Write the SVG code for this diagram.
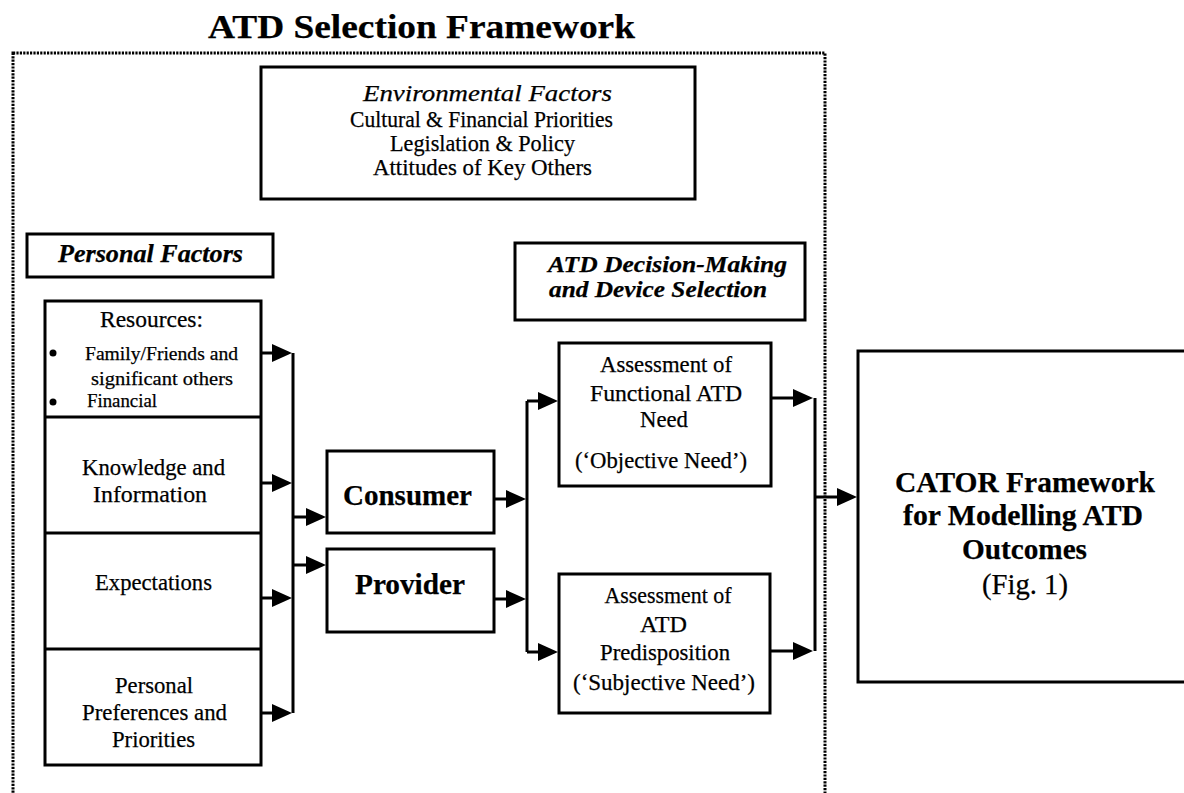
<svg xmlns="http://www.w3.org/2000/svg" width="1184" height="793" viewBox="0 0 1184 793" font-family="Liberation Serif, serif">
<style>
text{font-family:"Liberation Serif",serif;fill:#000;text-anchor:middle;stroke:#000;stroke-width:0.25}
.b{font-weight:bold}
.i{font-style:italic}
.box{fill:#fff;stroke:#000;stroke-width:3}
.ln{fill:none;stroke:#000;stroke-width:3}
.frame{fill:none;stroke:#000;stroke-width:3;stroke-dasharray:2.2 1.2}
</style>
<defs>
<marker id="ah" markerUnits="userSpaceOnUse" markerWidth="20" markerHeight="18" refX="10" refY="9" orient="auto">
<path d="M0,0 L20,9 L0,18 z" fill="#000"/>
</marker>
</defs>
<rect width="1184" height="793" fill="#fff"/>
<g id="frame">
<rect class="frame" x="13" y="53" width="812" height="770"/>
<text class="b" x="421.5" y="38" font-size="34" textLength="427" lengthAdjust="spacingAndGlyphs">ATD Selection Framework</text>
</g>
<g id="environmental">
<rect class="box" x="261" y="67" width="434" height="132" stroke-width="3.5"/>
<text class="i" x="487.5" y="101" font-size="24" textLength="249" lengthAdjust="spacingAndGlyphs">Environmental Factors</text>
<text x="481.5" y="127" font-size="23" textLength="263" lengthAdjust="spacingAndGlyphs">Cultural &amp; Financial Priorities</text>
<text x="482.5" y="151" font-size="23" textLength="185" lengthAdjust="spacingAndGlyphs">Legislation &amp; Policy</text>
<text x="482.5" y="175" font-size="23" textLength="219" lengthAdjust="spacingAndGlyphs">Attitudes of Key Others</text>
</g>
<g id="personal-factors">
<rect class="box" x="27" y="234" width="246" height="43"/>
<text class="b i" x="150.5" y="262" font-size="25" textLength="185" lengthAdjust="spacingAndGlyphs">Personal Factors</text>
</g>
<g id="personal-list">
<rect class="box" x="45" y="301" width="216" height="464"/>
<line class="ln" x1="45" y1="417" x2="261" y2="417"/>
<line class="ln" x1="45" y1="533" x2="261" y2="533"/>
<line class="ln" x1="45" y1="649" x2="261" y2="649"/>
<text x="151.5" y="327" font-size="23" textLength="103" lengthAdjust="spacingAndGlyphs">Resources:</text>
<circle cx="53" cy="353" r="3.5" fill="#000"/>
<circle cx="53" cy="402" r="3.5" fill="#000"/>
<text x="161.5" y="360" font-size="19" textLength="153" lengthAdjust="spacingAndGlyphs">Family/Friends and</text>
<text x="162" y="385" font-size="19" textLength="142" lengthAdjust="spacingAndGlyphs">significant others</text>
<text x="122" y="407" font-size="19" textLength="70" lengthAdjust="spacingAndGlyphs">Financial</text>
<text x="153.5" y="475" font-size="24" textLength="143" lengthAdjust="spacingAndGlyphs">Knowledge and</text>
<text x="150" y="502" font-size="24" textLength="114" lengthAdjust="spacingAndGlyphs">Information</text>
<text x="153.5" y="590" font-size="24" textLength="117" lengthAdjust="spacingAndGlyphs">Expectations</text>
<text x="154" y="693" font-size="24" textLength="78" lengthAdjust="spacingAndGlyphs">Personal</text>
<text x="154.5" y="720" font-size="24" textLength="145" lengthAdjust="spacingAndGlyphs">Preferences and</text>
<text x="153.5" y="747" font-size="24" textLength="83" lengthAdjust="spacingAndGlyphs">Priorities</text>
</g>
<g id="consumer">
<rect class="box" x="327" y="451" width="167" height="82"/>
<text class="b" x="407.5" y="505" font-size="30" textLength="129" lengthAdjust="spacingAndGlyphs">Consumer</text>
</g>
<g id="provider">
<rect class="box" x="327" y="549" width="167" height="83"/>
<text class="b" x="410" y="594" font-size="30" textLength="110" lengthAdjust="spacingAndGlyphs">Provider</text>
</g>
<g id="decision-making">
<rect class="box" x="515" y="243" width="290" height="77"/>
<text class="b i" x="667.5" y="272" font-size="24" textLength="239" lengthAdjust="spacingAndGlyphs">ATD Decision-Making</text>
<text class="b i" x="658" y="297" font-size="24" textLength="218" lengthAdjust="spacingAndGlyphs">and Device Selection</text>
</g>
<g id="functional">
<rect class="box" x="559" y="343" width="212" height="143"/>
<text x="666" y="372" font-size="23" textLength="132" lengthAdjust="spacingAndGlyphs">Assessment of</text>
<text x="666" y="401" font-size="23" textLength="152" lengthAdjust="spacingAndGlyphs">Functional ATD</text>
<text x="664" y="427" font-size="23" textLength="48" lengthAdjust="spacingAndGlyphs">Need</text>
<text x="661" y="468" font-size="23" textLength="172" lengthAdjust="spacingAndGlyphs">(‘Objective Need’)</text>
</g>
<g id="predisposition">
<rect class="box" x="559" y="574" width="211" height="139"/>
<text x="668" y="603" font-size="23" textLength="127" lengthAdjust="spacingAndGlyphs">Assessment of</text>
<text x="663.5" y="632" font-size="23" textLength="47" lengthAdjust="spacingAndGlyphs">ATD</text>
<text x="665" y="660" font-size="23" textLength="130" lengthAdjust="spacingAndGlyphs">Predisposition</text>
<text x="664" y="690" font-size="23" textLength="182" lengthAdjust="spacingAndGlyphs">(‘Subjective Need’)</text>
</g>
<g id="cator">
<path class="ln" d="M1190,351 H858 V682 H1190" fill="#fff"/>
<text class="b" x="1025" y="492" font-size="30" textLength="260" lengthAdjust="spacingAndGlyphs">CATOR Framework</text>
<text class="b" x="1023" y="525" font-size="30" textLength="240" lengthAdjust="spacingAndGlyphs">for Modelling ATD</text>
<text class="b" x="1024.5" y="559" font-size="30" textLength="125" lengthAdjust="spacingAndGlyphs">Outcomes</text>
<text x="1025" y="594" font-size="30" textLength="86" lengthAdjust="spacingAndGlyphs">(Fig. 1)</text>
</g>
<g id="connectors">
<path class="ln" d="M293,353 V713"/>
<path class="ln" d="M261,353 H282" marker-end="url(#ah)"/>
<path class="ln" d="M261,483 H282" marker-end="url(#ah)"/>
<path class="ln" d="M261,598 H282" marker-end="url(#ah)"/>
<path class="ln" d="M261,713 H282" marker-end="url(#ah)"/>
<path class="ln" d="M293,517 H316" marker-end="url(#ah)"/>
<path class="ln" d="M293,565 H316" marker-end="url(#ah)"/>
<path class="ln" d="M527,401 V652"/>
<path class="ln" d="M494,499 H516" marker-end="url(#ah)"/>
<path class="ln" d="M494,599 H516" marker-end="url(#ah)"/>
<path class="ln" d="M527,401 H548" marker-end="url(#ah)"/>
<path class="ln" d="M527,652 H548" marker-end="url(#ah)"/>
<path class="ln" d="M815,398 V651"/>
<path class="ln" d="M771,398 H803" marker-end="url(#ah)"/>
<path class="ln" d="M770,651 H803" marker-end="url(#ah)"/>
<path class="ln" d="M815,497 H847" marker-end="url(#ah)"/>
</g>
</svg>
